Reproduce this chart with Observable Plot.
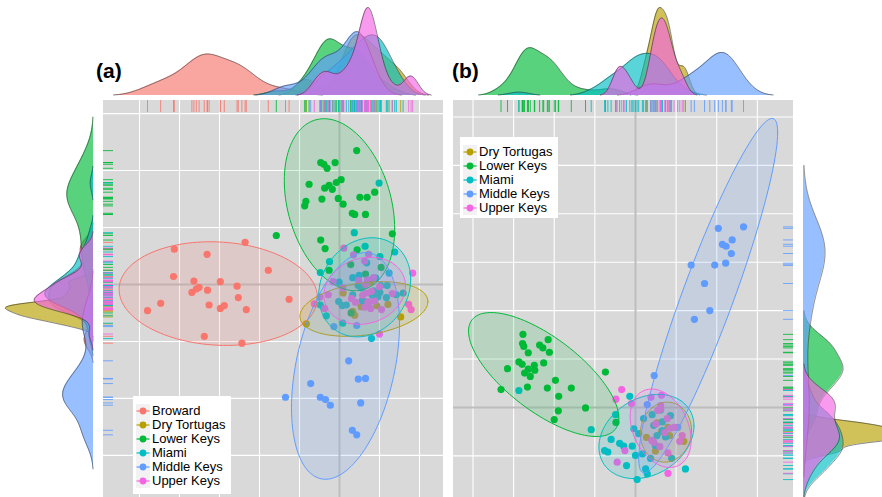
<!DOCTYPE html>
<html><head><meta charset="utf-8">
<script src="https://cdn.jsdelivr.net/npm/d3@7"></script>
<script src="https://cdn.jsdelivr.net/npm/@observablehq/plot@0.6"></script>
<style>
body{margin:0;background:#fff;font-family:"Liberation Sans",Arial,Helvetica,sans-serif;}
#chart{position:relative;width:882px;height:497px;overflow:hidden;background:#fff;}
#chart svg.pl{position:absolute;}
.title{position:absolute;font-weight:bold;font-size:21px;line-height:21px;color:#000;}
.legend{position:absolute;background:#fff;box-sizing:border-box;padding:8px 0 0 3px;}
.legend .row{display:flex;align-items:center;height:14px;font-size:13px;line-height:14px;color:#000;white-space:nowrap;}
.legend .row svg{margin-right:2px;flex:none;}
</style></head><body><div id="chart"></div>
<script>
// ---------- categories ----------
const groupsA = ["Broward", "Dry Tortugas", "Lower Keys", "Miami", "Middle Keys", "Upper Keys"];
const groupsB = ["Dry Tortugas", "Lower Keys", "Miami", "Middle Keys", "Upper Keys"];
const colorsAll = {"Broward":"#F8766D","Dry Tortugas":"#B79F00","Lower Keys":"#00BA38","Miami":"#00BFC4","Middle Keys":"#619CFF","Upper Keys":"#F564E3"};
const panelLabels = ["(a)", "(b)"];

// ---------- panel (a) scores [PC1, PC2] ----------
const aBroward = [[-4.13,0.62],[-3.31,0.53],[-2.36,0.74],[-1.78,0.25],[-4.15,0.14],[-3.64,0.06],[-2.98,0.05],[-2.56,-0.03],[-3.51,-0.05],[-3.58,-0.08],[-3.69,-0.14],[-3.30,-0.10],[-2.53,-0.23],[-1.26,-0.26],[-4.47,-0.33],[-4.80,-0.46],[-3.26,-0.36],[-2.88,-0.37],[-2.98,-0.42],[-2.33,-0.44],[-3.38,-0.91],[-2.44,-1.03]];
const aDryTortugas = [[0.78,0.04],[0.09,-0.15],[0.54,-0.39],[0.93,-0.37],[1.21,-0.35],[0.33,-0.47],[0.38,-0.54],[1.53,-0.57],[-0.83,-0.69]];
const aLowerKeys = [[0.43,2.35],[-0.47,2.14],[-0.39,2.11],[-0.31,2.04],[-0.11,2.14],[-0.76,1.76],[-0.37,1.69],[-0.26,1.74],[-0.18,1.67],[-0.08,1.79],[0.04,1.84],[-0.84,1.46],[-0.87,1.38],[-0.44,1.50],[-0.03,1.51],[0.09,1.41],[0.51,1.53],[0.69,1.53],[0.88,1.62],[0.32,1.25],[0.38,1.23],[0.65,1.23],[1.32,0.89],[-0.47,0.78],[-0.36,0.63],[0.44,0.61],[-1.58,0.86],[-0.26,0.25],[0.28,0.35],[1.04,0.30],[0.65,0.18],[0.29,-0.50]];
const aMiami = [[0.99,1.78],[0.37,0.91],[0.64,0.67],[1.38,0.57],[1.01,0.49],[-0.25,0.40],[-0.48,0.21],[0.68,0.38],[1.24,0.20],[0.49,0.16],[0.33,0.12],[0.91,0.11],[-0.01,0.04],[0.47,-0.02],[0.55,-0.06],[1.03,-0.02],[1.19,-0.02],[1.59,-0.15],[0.33,-0.18],[1.01,-0.14],[1.42,-0.18],[-0.02,-0.30],[0.07,-0.37],[0.17,-0.36],[0.57,-0.28],[0.82,-0.19],[1.17,-0.23],[-0.48,-0.36],[-0.33,-0.55],[0.08,-0.68],[0.80,-0.95],[0.65,-0.31],[0.86,-0.11],[0.96,-0.22]];
const aMiddleKeys = [[0.23,-1.34],[-0.72,-1.74],[0.47,-1.66],[0.65,-1.65],[-1.35,-1.98],[-0.48,-1.98],[-0.35,-2.02],[-0.23,-2.12],[0.53,-2.08],[0.32,-2.56],[0.43,-2.64],[-0.14,-0.74],[0.43,-0.72],[0.73,-0.32]];
const aUpperKeys = [[0.11,0.64],[0.35,0.52],[0.73,0.53],[0.63,0.41],[0.85,0.12],[1.83,0.20],[-0.16,0.05],[0.08,-0.06],[1.00,-0.04],[0.80,-0.12],[1.32,-0.16],[0.68,-0.15],[-0.49,-0.22],[0.40,-0.31],[0.71,-0.32],[0.30,-0.25],[0.88,-0.29],[-0.63,-0.34],[1.73,-0.35],[1.79,-0.44],[0.72,-0.30],[0.63,-0.40],[1.05,-0.44],[0.78,-0.42],[1.00,-0.87],[-0.28,-0.18],[-0.37,-0.42],[0.48,0.07],[0.58,-0.19],[0.70,0.08],[0.65,0.00]];

// ellipse summaries (a): centre, half-extent x, half-extent y, correlation
const ellA_cx = [-3.03, 0.61, 0.00, 0.63, 0.15, 0.63];
const ellA_cy = [-0.16, -0.43, 1.40, -0.05, -1.43, -0.11];
const ellA_sx = [2.48, 1.60, 1.38, 1.15, 1.35, 1.02];
const ellA_sy = [0.91, 0.48, 1.51, 0.87, 1.99, 0.59];
const ellA_rho = [-0.08, 0.27, -0.28, 0.16, 0.37, 0.14];

// ---------- panel (b) scores ----------
const bDryTortugas = [[0.53,-0.32],[0.80,-0.41],[0.27,-0.62],[0.84,-0.58],[0.49,-0.90],[1.19,-0.70],[0.64,-0.50]];
const bLowerKeys = [[-2.77,1.51],[-2.78,1.32],[-2.75,1.26],[-2.64,1.13],[-2.36,1.29],[-2.28,1.23],[-2.15,1.40],[-2.12,1.14],[-2.87,0.94],[-2.79,0.89],[-2.26,0.92],[-2.49,0.87],[-2.48,0.77],[-2.64,0.79],[-2.73,0.71],[-2.59,0.64],[-3.15,0.80],[-0.74,0.73],[-1.97,0.56],[-2.66,0.42],[-3.31,0.37],[-2.17,0.40],[-1.58,0.40],[-1.89,0.23],[-1.23,-0.01],[-1.90,-0.07],[-2.00,-0.25],[-0.48,-0.31]];
const bMiami = [[-2.87,0.35],[-1.09,-0.46],[-0.14,0.23],[-0.49,-0.15],[0.41,-0.15],[0.62,-0.05],[0.86,-0.17],[-0.04,-0.44],[0.20,-0.23],[0.45,-0.37],[0.66,-0.30],[0.08,-0.54],[0.66,-0.48],[0.74,-0.61],[-0.60,-0.66],[-0.39,-0.74],[-0.29,-0.80],[-0.08,-0.80],[-0.76,-0.89],[-0.68,-0.92],[0.00,-0.99],[0.17,-0.96],[-0.22,-1.20],[0.25,-1.27],[0.29,-1.37],[1.23,-1.27],[0.04,-1.49],[0.89,-1.05],[0.37,-1.05],[0.49,-0.79],[0.53,-0.58]];
const bMiddleKeys = [[2.04,3.70],[2.66,3.73],[2.14,3.37],[2.23,3.33],[2.38,3.46],[2.36,3.18],[1.37,2.94],[1.95,2.94],[2.22,2.98],[1.70,2.56],[1.83,2.00],[1.45,1.82],[0.46,0.66],[0.29,0.06],[1.04,-0.41]];
const bUpperKeys = [[-0.34,0.37],[-0.48,0.17],[-0.10,0.08],[0.38,0.21],[0.64,0.25],[0.78,-0.23],[1.15,-0.58],[1.09,-0.70],[0.80,-0.94],[-0.26,-0.89],[-0.45,-1.13],[0.80,-1.36],[0.45,-0.72],[0.62,-0.03],[0.50,-0.34],[0.72,-0.52],[0.60,-0.81],[0.85,-0.43],[0.95,-0.41],[0.40,-0.68],[0.55,-0.06],[0.62,0.04]];

const ellB_cx = [0.75, -2.26, 0.27, 1.79, 0.62];
const ellB_cy = [-0.51, 0.68, -0.60, 2.31, -0.43];
const ellB_sx = [0.63, 1.85, 1.17, 1.71, 0.75];
const ellB_sy = [0.62, 1.28, 0.87, 3.66, 0.81];
const ellB_rho = [0.05, -0.70, 0.25, 0.92, -0.30];

// axis limits and grid breaks
const xDomA = [-5.9, 2.6], yDomA = [-3.74, 3.23];
const xTicksA = [-5,-4,-3,-2,-1,0,1,2], yTicksA = [-3,-2,-1,0,1,2,3];
const xDomB = [-4.48, 3.89], yDomB = [-1.86, 6.34];
const xTicksB = [-4,-3,-2,-1,0,1,2,3], yTicksB = [-1,0,1,2,3,4,5,6];

// ---------- helpers ----------
function table(groups, arrays){ return groups.flatMap((g,i)=>arrays[i].map(([x,y])=>({group:g,x,y}))); }
function ellipses(groups,cx,cy,sx,sy,rho){
  const out=[];
  groups.forEach((g,i)=>{
    const r=rho[i], q=Math.sqrt(1-r*r);
    for(let k=0;k<=120;k++){const t=2*Math.PI*k/120;
      out.push({group:g, x:cx[i]+sx[i]*Math.cos(t), y:cy[i]+sy[i]*(r*Math.cos(t)+q*Math.sin(t))});}
  });
  return out;
}
function nrd0(v){
  const s=d3.deviation(v)||0; const srt=v.slice().sort(d3.ascending);
  const iqr=d3.quantileSorted(srt,.75)-d3.quantileSorted(srt,.25);
  let lo=Math.min(s, iqr/1.34); if(!(lo>0)) lo = s || 1;
  return 0.9*lo*Math.pow(v.length,-0.2);
}
function kde(rows,key,groups,dom){
  const [lo,hi]=dom;
  const out=[];
  for(const g of groups){
    const vals=rows.filter(d=>d.group===g).map(d=>d[key]); const bw=nrd0(vals);
    for(let i=0;i<=500;i++){const v=lo+(hi-lo)*i/500;
      const d=d3.mean(vals,x=>Math.exp(-0.5*((v-x)/bw)**2)/Math.sqrt(2*Math.PI))/bw;
      out.push({group:g,v,d});}
  }
  const max=d3.max(out,e=>e.d), thr=max*0.005;
  out.forEach(e=>{e.show = e.d>thr ? e.d : NaN;});
  out.max=max;
  return out;
}
const chart=document.getElementById("chart");
function place(svg,left,top){svg.classList.add("pl");svg.style.left=left+"px";svg.style.top=top+"px";chart.appendChild(svg);}

function scatter(groups, pts, ell, xDom, yDom, xT, yT, rugSide){
  const color={domain:groups, range:groups.map(g=>colorsAll[g])};
  const rugs=[Plot.ruleX(pts,{x:"x",stroke:"group",strokeWidth:1,strokeOpacity:0.85,insetBottom:385})];
  if(rugSide==="left") rugs.push(Plot.ruleY(pts,{y:"y",stroke:"group",strokeWidth:1,strokeOpacity:0.85,insetRight:330}));
  else rugs.push(Plot.ruleY(pts,{y:"y",stroke:"group",strokeWidth:1,strokeOpacity:0.85,insetLeft:330}));
  return Plot.plot({
    width:340,height:397,margin:0,
    style:{background:"#D9D9D9",overflow:"hidden"},
    x:{domain:xDom,range:[0,340],axis:null},
    y:{domain:yDom,range:[397,0],axis:null},
    color,
    marks:[
      Plot.ruleX(xT,{stroke:"#fff",strokeWidth:1.1}),
      Plot.ruleY(yT,{stroke:"#fff",strokeWidth:1.1}),
      Plot.ruleX([0],{stroke:"#BDBDBD",strokeWidth:2}),
      Plot.ruleY([0],{stroke:"#BDBDBD",strokeWidth:2}),
      Plot.dot(pts,{x:"x",y:"y",fill:"group",r:3.6}),
      ...groups.map(g=>Plot.line(ell.filter(d=>d.group===g),{x:"x",y:"y",stroke:"group",fill:"group",fillOpacity:0.15,strokeWidth:1})),
      ...rugs
    ]
  });
}
function margTop(groups, dens, xDom){
  return Plot.plot({
    width:340,height:96,margin:0,style:{background:"transparent",overflow:"visible"},
    x:{domain:xDom,range:[0,340],axis:null},
    y:{domain:[0,dens.max],range:[95,7],axis:null},
    color:{domain:groups,range:groups.map(g=>colorsAll[g])},
    marks:groups.flatMap(g=>{const d=dens.filter(e=>e.group===g);return[
      Plot.areaY(d,{x:"v",y1:0,y2:"show",fill:"group",fillOpacity:0.65}),
      Plot.lineY(d,{x:"v",y:"show",stroke:"#2a2a2a",strokeOpacity:0.7,strokeWidth:0.8})];})
  });
}
function margSide(groups, dens, yDom, width, xRange){
  return Plot.plot({
    width,height:397,margin:0,style:{background:"transparent",overflow:"visible"},
    y:{domain:yDom,range:[397,0],axis:null},
    x:{domain:[0,dens.max],range:xRange,axis:null},
    color:{domain:groups,range:groups.map(g=>colorsAll[g])},
    marks:groups.flatMap(g=>{const d=dens.filter(e=>e.group===g);return[
      Plot.areaX(d,{y:"v",x1:0,x2:"show",fill:"group",fillOpacity:0.65}),
      Plot.lineX(d,{y:"v",x:"show",stroke:"#2a2a2a",strokeOpacity:0.7,strokeWidth:0.8})];})
  });
}

// ---------- build ----------
const ptsA=table(groupsA,[aBroward,aDryTortugas,aLowerKeys,aMiami,aMiddleKeys,aUpperKeys]);
const ptsB=table(groupsB,[bDryTortugas,bLowerKeys,bMiami,bMiddleKeys,bUpperKeys]);
const ellA=ellipses(groupsA,ellA_cx,ellA_cy,ellA_sx,ellA_sy,ellA_rho);
const ellB=ellipses(groupsB,ellB_cx,ellB_cy,ellB_sx,ellB_sy,ellB_rho);

place(scatter(groupsA,ptsA,ellA,xDomA,yDomA,xTicksA,yTicksA,"left"),103,100);
place(scatter(groupsB,ptsB,ellB,xDomB,yDomB,xTicksB,yTicksB,"right"),453,100);
place(margTop(groupsA,kde(ptsA,"x",groupsA,xDomA),xDomA),103,0);
place(margTop(groupsB,kde(ptsB,"x",groupsB,xDomB),xDomB),453,0);
place(margSide(groupsA,kde(ptsA,"y",groupsA,yDomA),yDomA,103,[93,5]),0,100);
place(margSide(groupsB,kde(ptsB,"y",groupsB,yDomB),yDomB,89,[10,116]),793,100);

// titles
[[panelLabels[0],96],[panelLabels[1],452]].forEach(([t,l])=>{
  const d=document.createElement("div");d.className="title";d.textContent=t;d.style.left=l+"px";d.style.top="60px";chart.appendChild(d);
});
// legends
function legend(groups,left,top,w,h){
  const box=document.createElement("div");box.className="legend";
  Object.assign(box.style,{left:left+"px",top:top+"px",width:w+"px",height:h+"px"});
  for(const g of groups){
    const row=document.createElement("div");row.className="row";
    const c=colorsAll[g];
    row.innerHTML=`<svg width="14" height="14"><rect width="14" height="14" fill="#F2F2F2"/><line x1="0.5" x2="13.5" y1="7" y2="7" stroke="${c}" stroke-width="1.2"/><circle cx="7" cy="7" r="3.4" fill="${c}"/></svg><span></span>`;
    row.querySelector("span").textContent=g;
    box.appendChild(row);
  }
  chart.appendChild(box);
}
legend(groupsA,133,396,98,98);
legend(groupsB,460,137,98,81);
</script></body></html>
